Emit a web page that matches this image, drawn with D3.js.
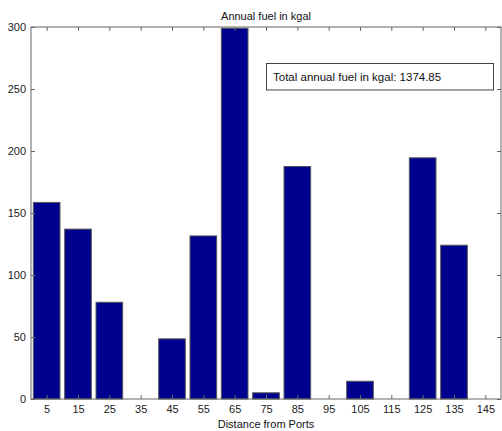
<!DOCTYPE html>
<html><head><meta charset="utf-8">
<script src="https://cdn.jsdelivr.net/npm/d3@7"></script>
<style>body{margin:0;background:#fff}svg{display:block}text{font-family:"Liberation Sans",Arial,sans-serif}</style>
</head><body>
<svg id="c" width="502" height="431"></svg>
<script>
const categories = [5,15,25,35,45,55,65,75,85,95,105,115,125,135,145];
const values = [158.5,137,78,0,48.5,131.5,299,5,187.5,0,14.3,0,194.5,124,0];
const yTicks = [0,50,100,150,200,250,300];
const title = "Annual fuel in kgal";
const xLabel = "Distance from Ports";
const note = "Total annual fuel in kgal: 1374.85";

const svg = d3.select("#c");
const m = {l:31, r:501, t:27, b:399};
const x = d3.scaleLinear().domain([0,150]).range([m.l, m.r]);
const y = d3.scaleLinear().domain([0,300]).range([m.b, m.t]);
const halfW = 4.25;

svg.append("g").selectAll("rect").data(categories.map((c,i)=>({c,v:values[i]})).filter(d=>d.v>0))
  .join("rect")
  .attr("x", d=>x(d.c-halfW)).attr("width", d=>x(d.c+halfW)-x(d.c-halfW))
  .attr("y", d=>y(d.v)).attr("height", d=>y(0)-y(d.v))
  .attr("fill","#00008f").attr("stroke","#555").attr("stroke-width",1);

const axisColor = "#666";
const tk = 4;
const gb = svg.append("g").attr("transform",`translate(0,${m.b})`)
  .call(d3.axisBottom(x).tickValues(categories).tickSize(-tk).tickPadding(6).tickFormat(d3.format("d")));
const gt = svg.append("g").attr("transform",`translate(0,${m.t})`)
  .call(d3.axisTop(x).tickValues(categories).tickSize(-tk).tickFormat(""));
const gl = svg.append("g").attr("transform",`translate(${m.l},0)`)
  .call(d3.axisLeft(y).tickValues(yTicks).tickSize(-tk).tickPadding(5).tickFormat(d3.format("d")));
const gr = svg.append("g").attr("transform",`translate(${m.r},0)`)
  .call(d3.axisRight(y).tickValues(yTicks).tickSize(-tk).tickFormat(""));
[gb,gt,gl,gr].forEach(g=>{
  g.selectAll(".tick line").attr("stroke",axisColor);
  g.selectAll(".tick text").attr("fill","#222").attr("font-size",11).attr("font-family","Liberation Sans, Arial, sans-serif");
  g.select(".domain").remove();
});
svg.append("rect").attr("x",m.l).attr("y",m.t).attr("width",m.r-m.l).attr("height",m.b-m.t)
  .attr("fill","none").attr("stroke",axisColor).attr("stroke-width",1);

svg.append("text").attr("x",(m.l+m.r)/2).attr("y",20).attr("text-anchor","middle")
  .attr("font-size",11).attr("fill","#111").text(title);
svg.append("text").attr("x",(m.l+m.r)/2).attr("y",428).attr("text-anchor","middle")
  .attr("font-size",11).attr("fill","#111").text(xLabel);

svg.append("rect").attr("x",266.5).attr("y",63.5).attr("width",227).attr("height",26.5)
  .attr("fill","#fff").attr("stroke","#444").attr("stroke-width",1);
svg.append("text").attr("x",273).attr("y",81).attr("font-size",11.5).attr("fill","#111").text(note);
</script>
</body></html>
